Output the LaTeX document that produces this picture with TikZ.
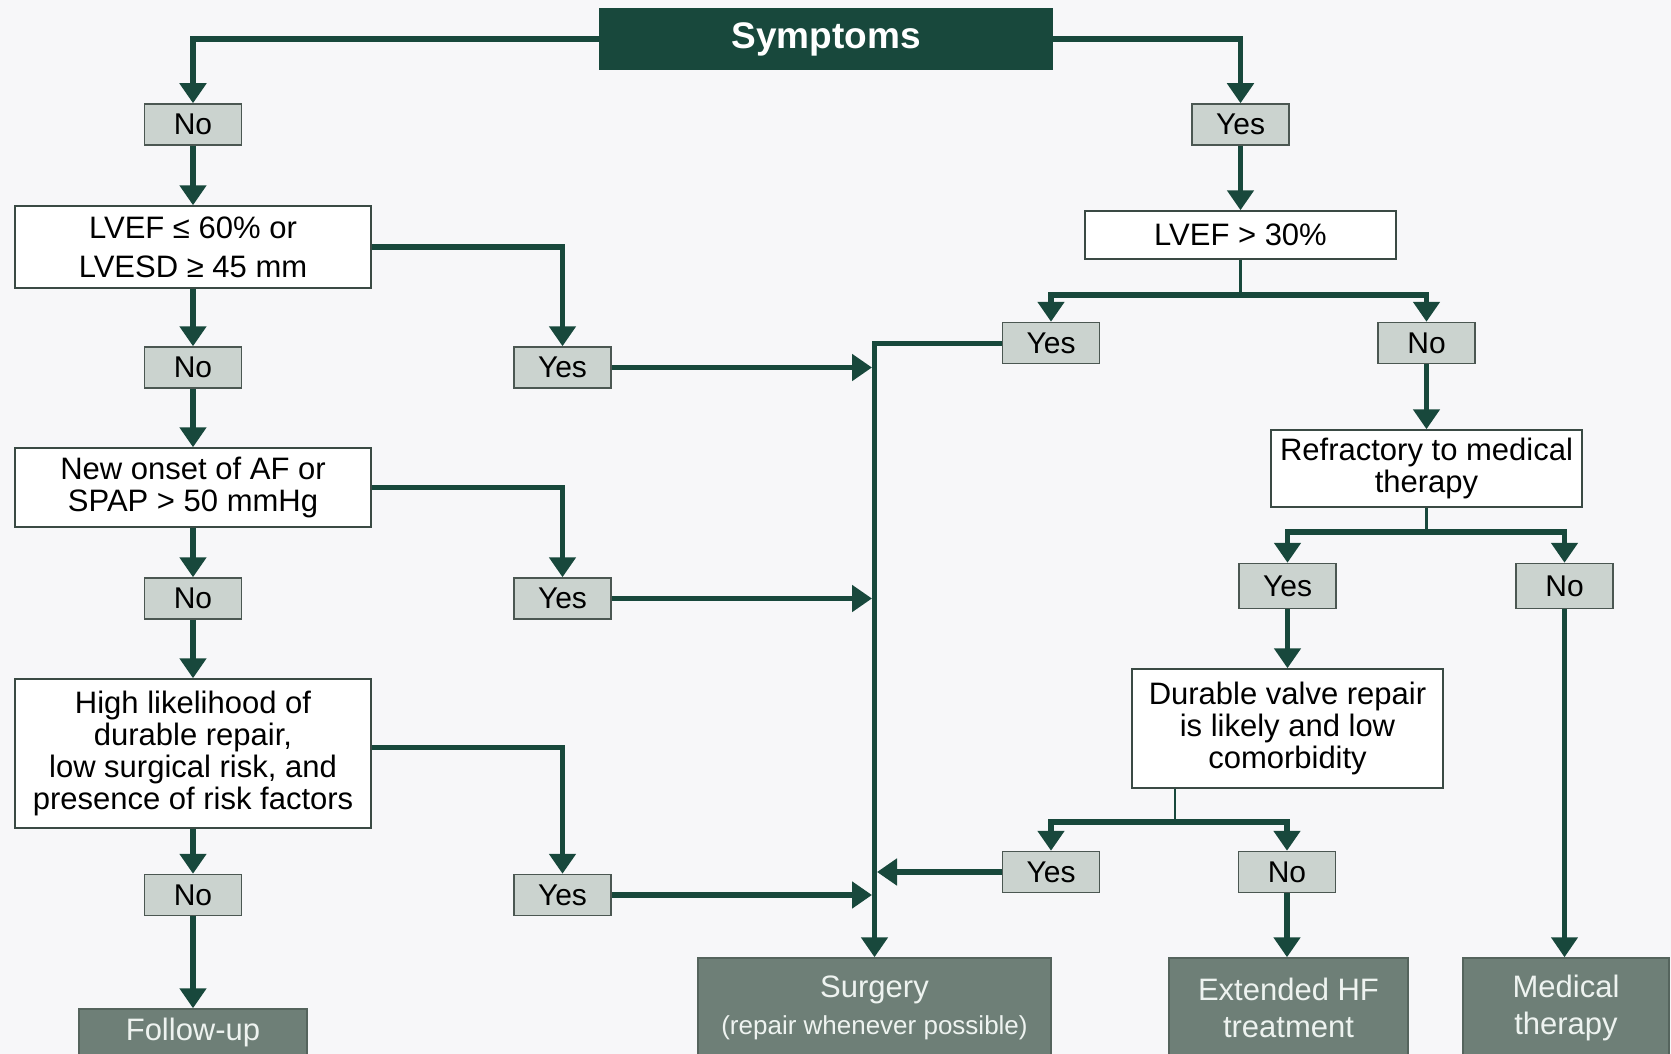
\documentclass[tikz,border=0pt]{standalone}
\usepackage{fontspec}
\setmainfont{Liberation Sans}
\usetikzlibrary{arrows.meta}
\definecolor{dkGreen}{HTML}{18483C}
\definecolor{ansFill}{HTML}{CBD3CF}
\definecolor{ansLine}{HTML}{4B5752}
\definecolor{outFill}{HTML}{6E7F77}
\definecolor{outLine}{HTML}{55645D}
\definecolor{outText}{HTML}{EEF3F0}
\definecolor{qLine}{HTML}{3A4A44}
\definecolor{bgGrey}{HTML}{F7F7F9}
\newcommand*{\answer}[5][]{\node[answerbox, #1] (#2) at (#3,#4) {#5};}% style, name, x, y, text
\newcommand*{\query}[6]{\node[querybox, minimum width=#4pt, minimum height=#5pt] (#1) at (#2,#3) {#6};}% name, x, y, width, height, text

\begin{document}
\begin{tikzpicture}[x=1pt, y=-1pt,
    flow/.style={draw=dkGreen, line width=5.5pt, -{Triangle[width=26pt,length=20pt]}},
    stem/.style={draw=dkGreen, line width=2.5pt},
    answerbox/.style={draw=ansLine, fill=ansFill, line width=1.5pt, inner sep=0pt,
        minimum width=97pt, minimum height=41pt, font=\fontsize{30}{32}\selectfont},
    querybox/.style={draw=qLine, fill=white, line width=1.5pt, inner sep=2pt, align=center,
        font=\fontsize{31}{32}\selectfont},
    outbox/.style={draw=outLine, fill=outFill, line width=1.5pt, inner sep=0pt, align=center,
        text=outText, font=\fontsize{31}{37}\selectfont}]
\useasboundingbox (0,0) rectangle (1671,1054);
\clip (0,0) rectangle (1671,1054);
\fill[bgGrey] (0,0) rectangle (1671,1054);

% start
\node[fill=dkGreen, minimum width=454pt, minimum height=62pt, text=white,
    font=\fontsize{37}{40}\selectfont\bfseries] (sym) at (826,39) {Symptoms};

% left column
\answer{noA}{193}{124.5}{No}
\query{lvefLow}{193}{247}{356}{82}{LVEF ≤ 60\% or\\[7pt]LVESD ≥ 45 mm}
\answer{noB}{193}{367.5}{No}
\answer{yesB}{562.5}{367.5}{Yes}
\query{onset}{193}{487.5}{356}{79}{New onset of AF or\\SPAP > 50 mmHg}
\answer{noC}{193}{598.5}{No}
\answer{yesC}{562.5}{598.5}{Yes}
\query{likely}{193}{753.5}{356}{149}{High likelihood of\\durable repair,\\low surgical risk, and\\presence of risk factors}
\answer{noD}{193}{895}{No}
\answer{yesD}{562.5}{895}{Yes}

% right column
\answer{yesTop}{1240.5}{124.5}{Yes}
\query{lvefHigh}{1240.5}{235}{311}{48}{LVEF > 30\%}
\answer{yesE}{1051}{343}{Yes}
\answer{noE}{1426.5}{343}{No}
\query{refract}{1426.5}{468.5}{311}{77}{Refractory to medical\\therapy}
\answer[minimum height=45pt]{yesF}{1287.5}{586}{Yes}
\answer[minimum height=45pt]{noF}{1564.5}{586}{No}
\query{durable}{1287.5}{728.5}{311}{119}{Durable valve repair\\is likely and low\\comorbidity}
\answer{yesG}{1051}{872}{Yes}
\answer{noG}{1287}{872}{No}

% outcomes
\node[outbox, minimum width=228pt, minimum height=46pt] (follow) at (193,1032) {Follow-up};
\node[outbox, minimum width=353pt, minimum height=100pt] (surgery) at (874.5,1008)
    {Surgery\\{\fontsize{26}{37}\selectfont(repair whenever possible)}};
\node[outbox, minimum width=239pt, minimum height=100pt] (extHF) at (1288.5,1008) {Extended HF\\treatment};
\node[outbox, minimum width=206pt, minimum height=100pt] (medical) at (1566,1008) {Medical\\therapy};

% branch points
\path (lvefHigh.south) ++(0,35) coordinate (brHigh);
\path (refract.south) ++(0,24) coordinate (brRef);
\coordinate (brDur) at (1175,822);

% connectors
\draw[flow] (sym) -| (noA);
\draw[flow] (sym) -| (yesTop);
\draw[flow] (noA) -- (lvefLow);
\draw[flow] (lvefLow) -- (noB);
\draw[flow] (noB) -- (onset);
\draw[flow] (onset) -- (noC);
\draw[flow] (noC) -- (likely);
\draw[flow] (likely) -- (noD);
\draw[flow] (noD) -- (follow);
\draw[flow] (lvefLow) -| (yesB);
\draw[flow] (onset.east) -| (yesC);
\draw[flow] ([yshift=6pt]likely.east) -| (yesD);
\draw[flow, shorten >=2.5pt] (yesB) -- (yesB -| surgery.north);
\draw[flow, shorten >=2.5pt] (yesC) -- (yesC -| surgery.north);
\draw[flow, shorten >=2.5pt] (yesD) -- (yesD -| surgery.north);

\draw[flow] (yesTop) -- (lvefHigh);
\draw[stem] (lvefHigh) -- (brHigh);
\draw[flow] (brHigh) -| (yesE);
\draw[flow] (brHigh) -| (noE);
\draw[flow, line width=5pt] (yesE.west) -| (surgery.north);
\draw[flow] (noE) -- (refract);
\draw[stem] (refract) -- (brRef);
\draw[flow] (brRef) -| (yesF);
\draw[flow] (brRef) -| (noF);
\draw[flow] (yesF) -- (durable);
\draw[flow, line width=4.5pt] (noF) -- (noF |- medical.north);
\draw[stem] (brDur |- durable.south) -- (brDur);
\draw[flow] (brDur) -| (yesG);
\draw[flow] (brDur) -| (noG);
\draw[flow, shorten >=2.5pt] (yesG) -- (yesG -| surgery.north);
\draw[flow] (noG) -- (noG |- extHF.north);
\end{tikzpicture}
\end{document}
